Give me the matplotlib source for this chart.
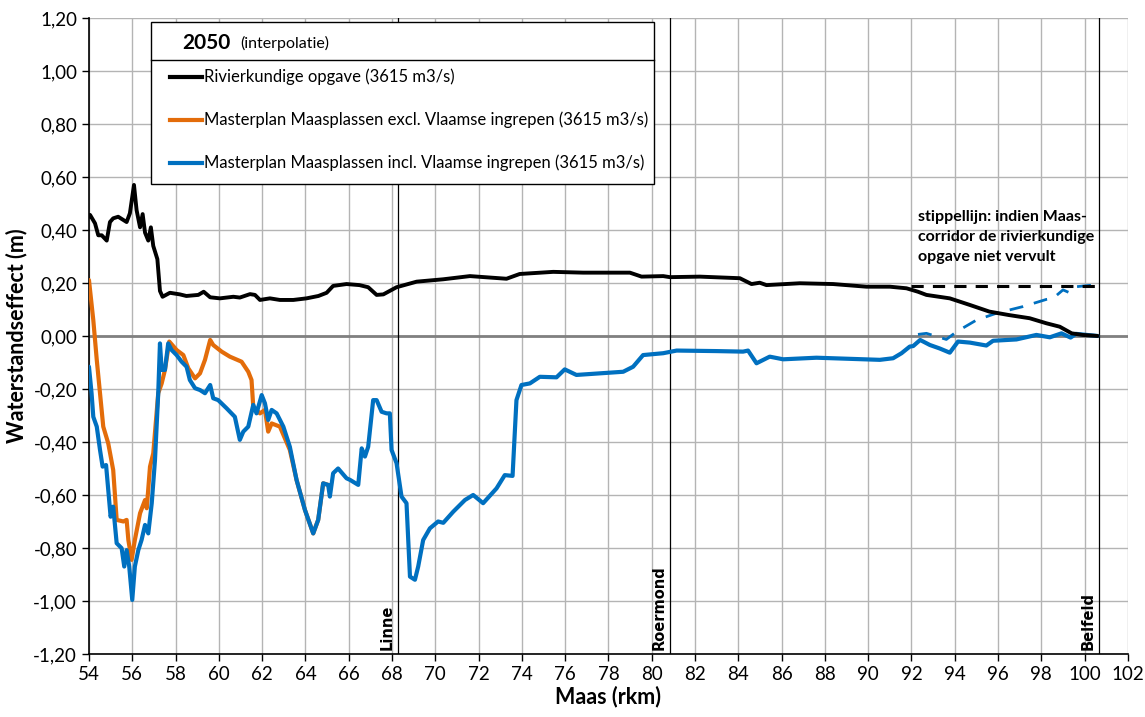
import matplotlib.pyplot as plt
from matplotlib.patches import Rectangle
from matplotlib.lines import Line2D

# rivierkilometers en waterstandseffect (m)
black_km = [54.0, 54.05, 54.28, 54.43, 54.59, 54.82, 54.97, 55.12, 55.35, 55.74, 55.89, 56.08, 56.2,
            56.36, 56.48, 56.59, 56.74, 56.86, 56.97, 57.16, 57.28, 57.4, 57.74, 58.2, 58.5, 59.05,
            59.3, 59.6, 60.05, 60.67, 60.97, 61.44, 61.67, 61.9, 62.36, 62.82, 63.44, 64.05, 64.6,
            64.98, 65.28, 65.9, 66.5, 66.9, 67.29, 67.6, 68.21, 69.14, 70.37, 71.6, 73.29, 73.9,
            75.45, 76.83, 78.99, 79.53, 80.53, 80.84, 82.22, 84.07, 84.61, 84.99, 85.3, 86.84,
            88.38, 89.92, 91.0, 91.77, 92.3, 92.69, 93.77, 94.7, 95.6, 96.5, 97.46, 98.23, 98.85,
            99.4, 99.9, 100.6]
black_val = [0.45, 0.457, 0.425, 0.38, 0.38, 0.36, 0.43, 0.444, 0.45, 0.43, 0.463, 0.57, 0.475,
             0.41, 0.46, 0.39, 0.36, 0.41, 0.34, 0.29, 0.17, 0.148, 0.163, 0.157, 0.151, 0.155,
             0.167, 0.146, 0.142, 0.148, 0.145, 0.158, 0.155, 0.136, 0.142, 0.136, 0.136, 0.142,
             0.151, 0.163, 0.189, 0.196, 0.192, 0.184, 0.155, 0.157, 0.184, 0.205, 0.214, 0.226,
             0.216, 0.234, 0.242, 0.239, 0.239, 0.224, 0.226, 0.222, 0.224, 0.218, 0.196, 0.201,
             0.192, 0.199, 0.196, 0.186, 0.186, 0.18, 0.167, 0.155, 0.142, 0.117, 0.092, 0.079,
             0.067, 0.048, 0.035, 0.01, 0.004, 0.0]

orange_km = [54.0, 54.2, 54.36, 54.51, 54.66, 54.89, 55.12, 55.28, 55.59, 55.74, 55.82, 55.97,
             56.12, 56.36, 56.59, 56.67, 56.82, 56.97, 57.2, 57.36, 57.51, 57.71, 58.05, 58.36,
             58.59, 58.9, 59.13, 59.36, 59.6, 59.74, 60.13, 60.51, 61.05, 61.36, 61.51, 61.59,
             61.9, 62.13, 62.28, 62.44, 62.82, 63.28, 63.59, 63.98, 64.36, 64.59, 64.82, 65.05]
orange_val = [0.211, 0.06, -0.09, -0.216, -0.342, -0.405, -0.506, -0.694, -0.7, -0.694, -0.77,
              -0.845, -0.77, -0.669, -0.619, -0.65, -0.493, -0.443, -0.216, -0.179, -0.128,
              -0.021, -0.053, -0.072, -0.122, -0.16, -0.141, -0.09, -0.015, -0.034, -0.059,
              -0.078, -0.097, -0.135, -0.166, -0.267, -0.292, -0.279, -0.361, -0.33, -0.342,
              -0.43, -0.543, -0.657, -0.745, -0.694, -0.556, -0.562]

blue_km = [54.0, 54.12, 54.2, 54.36, 54.51, 54.63, 54.79, 54.89, 55.0, 55.12, 55.28, 55.51, 55.63,
           55.74, 55.86, 56.0, 56.12, 56.28, 56.43, 56.59, 56.74, 56.9, 57.05, 57.2, 57.28, 57.36,
           57.51, 57.66, 57.82, 58.05, 58.28, 58.51, 58.66, 58.9, 59.13, 59.36, 59.6, 59.74,
           59.97, 60.36, 60.74, 60.97, 61.13, 61.36, 61.59, 61.74, 61.98, 62.13, 62.28, 62.44,
           62.67, 62.98, 63.28, 63.59, 63.98, 64.36, 64.59, 64.82, 65.05, 65.13, 65.28, 65.51,
           65.9, 66.06, 66.44, 66.6, 66.75, 66.9, 67.13, 67.29, 67.52, 67.75, 67.9, 67.98, 68.21,
           68.44, 68.67, 68.83, 69.06, 69.21, 69.44, 69.75, 70.13, 70.37, 70.83, 71.37, 71.75,
           72.21, 72.83, 73.21, 73.57, 73.75, 73.98, 74.37, 74.83, 75.6, 75.98, 76.52, 77.6,
           78.68, 79.14, 79.6, 80.53, 81.15, 82.99, 84.22, 84.45, 84.84, 85.45, 86.07, 87.61,
           89.15, 90.54, 91.15, 91.54, 91.92, 92.08, 92.4, 92.85, 93.3, 93.77, 94.15, 94.7,
           95.46, 95.77, 96.85, 97.77, 98.39, 98.93, 99.35, 99.6, 100.6]
blue_val = [-0.116, -0.216, -0.305, -0.342, -0.43, -0.493, -0.487, -0.581, -0.682, -0.644,
            -0.782, -0.801, -0.87, -0.808, -0.87, -0.996, -0.87, -0.808, -0.77, -0.713, -0.745,
            -0.631, -0.468, -0.216, -0.028, -0.128, -0.128, -0.028, -0.053, -0.072, -0.097,
            -0.116, -0.166, -0.197, -0.204, -0.216, -0.185, -0.235, -0.242, -0.273, -0.305,
            -0.392, -0.361, -0.342, -0.26, -0.292, -0.223, -0.254, -0.317, -0.279, -0.292,
            -0.342, -0.418, -0.543, -0.657, -0.745, -0.694, -0.556, -0.562, -0.606, -0.518,
            -0.5, -0.537, -0.543, -0.562, -0.424, -0.455, -0.418, -0.242, -0.242, -0.286,
            -0.292, -0.292, -0.43, -0.48, -0.606, -0.631, -0.908, -0.92, -0.87, -0.77, -0.726,
            -0.7, -0.705, -0.663, -0.619, -0.6, -0.631, -0.575, -0.525, -0.528, -0.242, -0.185,
            -0.179, -0.154, -0.156, -0.126, -0.147, -0.141, -0.135, -0.116, -0.072, -0.065,
            -0.055, -0.057, -0.059, -0.055, -0.103, -0.078, -0.088, -0.082, -0.086, -0.09,
            -0.084, -0.065, -0.04, -0.038, -0.015, -0.034, -0.047, -0.063, -0.021, -0.025,
            -0.036, -0.018, -0.013, 0.004, -0.005, 0.01, -0.006, 0.008, 0.0]

# stippellijnen
black_dash_km = [92.0, 100.62]
black_dash_val = [0.188, 0.188]
blue_dash_km = [92.3, 92.69, 93.61, 94.08, 95.0, 95.93, 97.15, 98.23, 98.54, 99.0, 99.31, 99.62,
                100.23, 100.62]
blue_dash_val = [0.006, 0.01, -0.013, 0.016, 0.06, 0.086, 0.111, 0.138, 0.142, 0.174, 0.163,
                 0.186, 0.191, 0.189]

places = ['Linne', 'Roermond', 'Belfeld']
places_km = [68.27, 80.85, 100.65]

x_ticks = list(range(54, 103, 2))
y_ticks = [-1.2, -1.0, -0.8, -0.6, -0.4, -0.2, 0.0, 0.2, 0.4, 0.6, 0.8, 1.0, 1.2]
y_labels = ['-1,20', '-1,00', '-0,80', '-0,60', '-0,40', '-0,20', '0,00',
            '0,20', '0,40', '0,60', '0,80', '1,00', '1,20']

legend_labels = ['Rivierkundige opgave (3615 m3/s)',
                 'Masterplan Maasplassen excl. Vlaamse ingrepen (3615 m3/s)',
                 'Masterplan Maasplassen incl. Vlaamse ingrepen (3615 m3/s)']

plt.rcParams['font.family'] = ['Lato', 'DejaVu Sans']

fig = plt.figure(figsize=(11.45, 7.17), dpi=100)
ax = fig.add_axes([0.0777, 0.0879, 0.9074, 0.887])

c_black = '#000000'
c_orange = '#E36C0A'
c_blue = '#0070C0'

kw = dict(solid_joinstyle='round', solid_capstyle='round')
ax.plot(orange_km, orange_val, color=c_orange, lw=3.0, zorder=3, **kw)
ax.plot(blue_km, blue_val, color=c_blue, lw=3.0, zorder=4, **kw)
ax.plot(black_km, black_val, color=c_black, lw=2.8, zorder=5, **kw)
ax.plot(black_dash_km, black_dash_val, color=c_black, lw=2.2, dashes=(4, 3), zorder=5)
ax.plot(blue_dash_km, blue_dash_val, color=c_blue, lw=2.0, dashes=(5, 4), zorder=4)

# nullijn
ax.axhline(0, color='#808080', lw=2.0, zorder=2)

# plaatsen
for name, km in zip(places, places_km):
    ax.axvline(km, color='black', lw=0.9, zorder=2)
    ax.text(km - 0.15, -1.185, name, rotation=90, ha='right', va='bottom',
            fontsize=10.5, fontweight='bold', family=['DejaVu Sans'])

ax.set_xlim(54, 102)
ax.set_ylim(-1.2, 1.2)
ax.set_xticks(x_ticks)
ax.set_yticks(y_ticks)
ax.set_yticklabels(y_labels)
ax.tick_params(labelsize=13.5, length=5, direction='out', width=1)
ax.grid(True, color='#b4b4b4', lw=1.0, zorder=0)
ax.set_axisbelow(True)
for s in ['top', 'right']:
    ax.spines[s].set_visible(False)
ax.spines['left'].set_linewidth(1.2)
ax.spines['bottom'].set_linewidth(1.2)

ax.set_xlabel('Maas (rkm)', fontsize=15.5, fontweight='bold', labelpad=2)
ax.set_ylabel('Waterstandseffect (m)', fontsize=15.5, fontweight='bold', labelpad=4)

# legenda met kop
ax.add_patch(Rectangle((0.0597, 0.739), 0.4841, 0.2547, transform=ax.transAxes,
                       facecolor='white', edgecolor='black', lw=1.0, zorder=10))
ax.plot([0.0597, 0.5438], [0.934, 0.934], transform=ax.transAxes, color='black', lw=1.0,
        zorder=11)
ax.text(0.0895, 0.9607, '2050', transform=ax.transAxes, fontsize=15, fontweight='bold',
        va='center', zorder=12)
ax.text(0.1453, 0.9607, '(interpolatie)', transform=ax.transAxes, fontsize=11.5,
        va='center', zorder=12)
for lbl, col, yy in zip(legend_labels, [c_black, c_orange, c_blue], [0.9072, 0.8396, 0.772]):
    ax.add_line(Line2D([0.078, 0.1088], [yy, yy], transform=ax.transAxes, color=col, lw=3,
                       zorder=12))
    ax.text(0.1107, yy, lbl, transform=ax.transAxes, fontsize=12, va='center', zorder=12)

ax.text(0.798, 0.6557, 'stippellijn: indien Maas-\ncorridor de rivierkundige\nopgave niet vervult',
        transform=ax.transAxes, fontsize=11.5, fontweight='bold', va='center', linespacing=1.55)

fig.savefig('out.png', dpi=100)
